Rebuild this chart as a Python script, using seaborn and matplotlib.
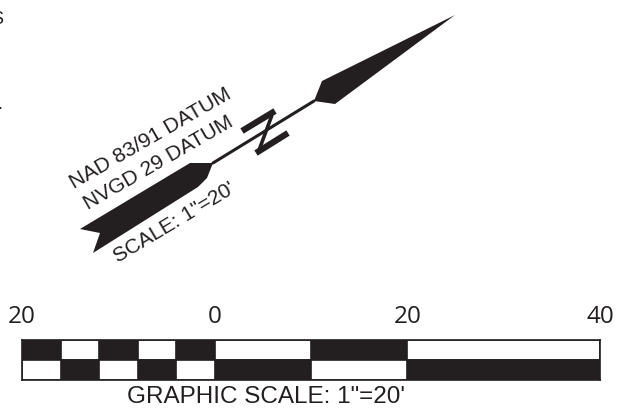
import matplotlib
matplotlib.use('Agg')
import matplotlib.pyplot as plt
import seaborn as sns

# scale bar, feet measured from the left end of the bar
segment_ends = [4, 8, 12, 16, 20, 30, 40, 60]
top_row = ['black', 'white', 'black', 'white', 'black', 'white', 'black', 'white']
bottom_row = ['white', 'black', 'white', 'black', 'white', 'black', 'white', 'black']
tick_pos = [0, 20, 40, 60]
tick_labels = ['20', '0', '20', '40']

# north arrow outline, in picture pixels
feather_x = [213, 190, 80, 100, 93, 198, 207]
feather_y = [163, 163, 229, 233, 253, 187, 178]
head_x = [455, 322, 314, 335]
head_y = [15, 81, 101, 104]
shaft_x = [213, 314]
shaft_y = [163, 101]
n_x = [242, 275]
n_y = [131, 111]
n2_x = [272, 258]
n2_y = [115, 153]
n3_x = [256, 288]
n3_y = [153, 133]

INK = '#231f20'
W, H = 624, 415

sns.set_theme(style='white')
plt.rcParams['font.family'] = ['Liberation Sans', 'DejaVu Sans']

fig = plt.figure(figsize=(W / 100, H / 100), dpi=100)

# full picture axes in pixel coordinates for the arrow and labels
ax = fig.add_axes([0, 0, 1, 1])
ax.set_xlim(0, W)
ax.set_ylim(H, 0)
ax.axis('off')

ax.fill(feather_x, feather_y, color=INK, lw=0)
ax.fill(head_x, head_y, color=INK, lw=0)
sns.lineplot(x=shaft_x, y=shaft_y, sort=False, color=INK, lw=2.2, ax=ax, legend=False)
sns.lineplot(x=n_x, y=n_y, sort=False, color=INK, lw=4.5, ax=ax, legend=False,
             solid_capstyle='butt')
sns.lineplot(x=n2_x, y=n2_y, sort=False, color=INK, lw=2.6, ax=ax, legend=False,
             solid_capstyle='butt')
sns.lineplot(x=n3_x, y=n3_y, sort=False, color=INK, lw=4.5, ax=ax, legend=False,
             solid_capstyle='butt')
ax.set_xlim(0, W)
ax.set_ylim(H, 0)

ax.text(150, 138, 'NAD 83/91 DATUM', rotation=30, fontsize=15.2, color=INK,
        ha='center', va='center', rotation_mode='anchor')
ax.text(158, 163, 'NVGD 29 DATUM', rotation=30, fontsize=15.1, color=INK,
        ha='center', va='center', rotation_mode='anchor')
ax.text(174, 223, 'SCALE: 1"=20\'', rotation=31, fontsize=15, color=INK,
        ha='center', va='center', rotation_mode='anchor')
ax.text(266, 397, 'GRAPHIC SCALE: 1"=20\'', fontsize=17.5, color=INK,
        ha='center', va='center')

# bits of cut off text at the left edge
ax.text(3, 20, 'S', fontsize=13, color=INK, ha='right', va='center')
ax.text(2, 104, '.', fontsize=13, color=INK, ha='right', va='center')

# scale bar
left, right, top, bottom = 22, 600, 340, 380
bar_ax = fig.add_axes([left / W, 1 - bottom / H, (right - left) / W, (bottom - top) / H])
rows = ['top', 'bottom']
for i in range(len(segment_ends) - 1, -1, -1):
    end = segment_ends[i]
    for row, colors in zip(rows, [top_row, bottom_row]):
        fill = INK if colors[i] == 'black' else 'white'
        sns.barplot(x=[end], y=[row], order=rows, color=fill, saturation=1, width=1,
                    edgecolor=INK, linewidth=1.2, ax=bar_ax, orient='h')
bar_ax.set_xlim(0, 60)
bar_ax.set_ylim(1.5, -0.5)
bar_ax.set_xlabel('')
bar_ax.set_ylabel('')
bar_ax.set_yticks([])
bar_ax.xaxis.tick_top()
bar_ax.set_xticks(tick_pos)
bar_ax.set_xticklabels(tick_labels, fontsize=17.5, color=INK, family='Open Sans')
bar_ax.tick_params(axis='x', length=0, pad=8)
for s in bar_ax.spines.values():
    s.set_visible(True)
    s.set_color(INK)
    s.set_linewidth(1.2)

fig.savefig('out.png', dpi=100)
